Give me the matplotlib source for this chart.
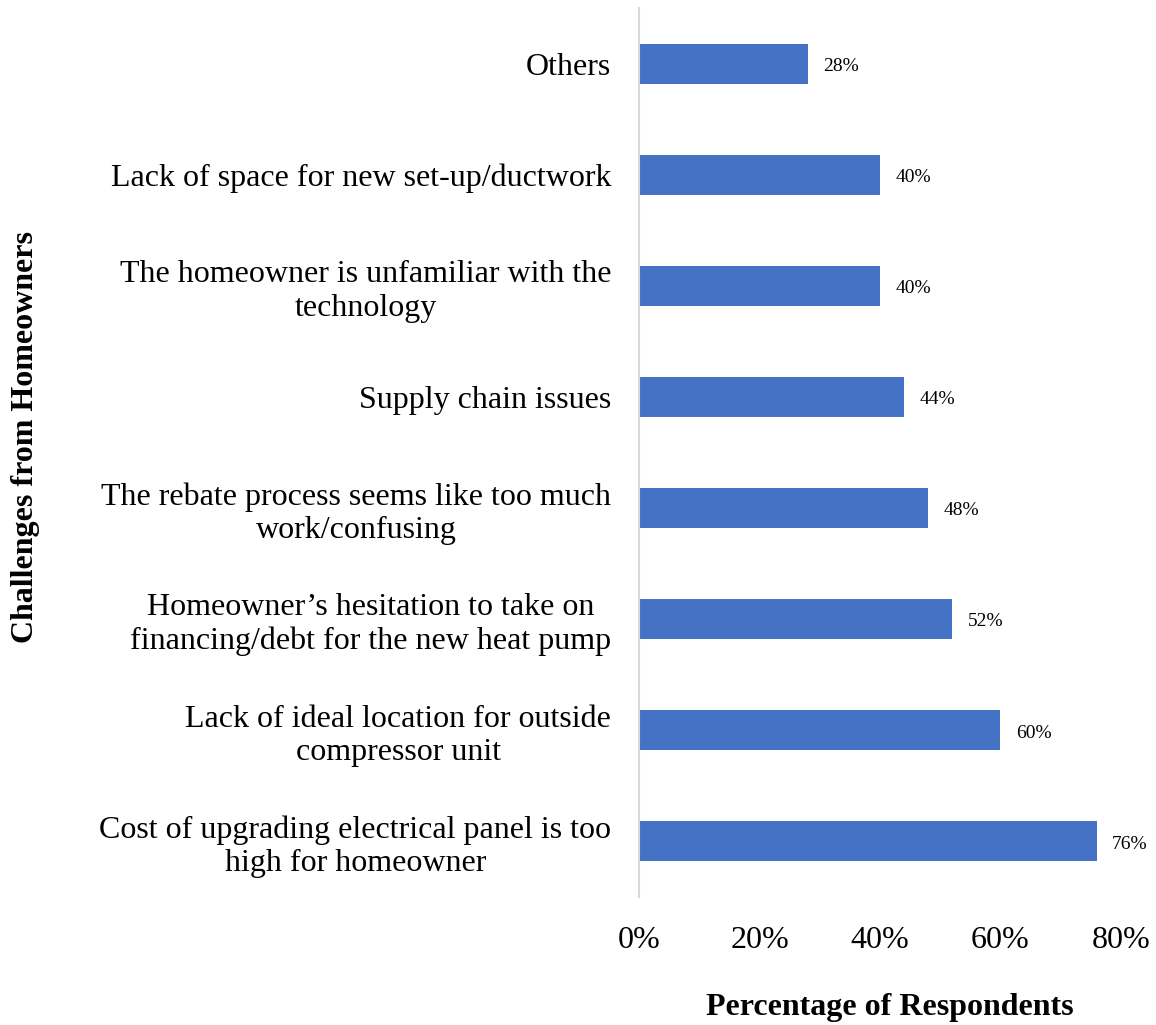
import matplotlib
matplotlib.use("Agg")
import matplotlib.pyplot as plt
from matplotlib.ticker import PercentFormatter

# categories listed bottom to top
categories = [
    "Cost of upgrading electrical panel is too\nhigh for homeowner",
    "Lack of ideal location for outside\ncompressor unit",
    "Homeowner\u2019s hesitation to take on\nfinancing/debt for the new heat pump",
    "The rebate process seems like too much\nwork/confusing",
    "Supply chain issues",
    "The homeowner is unfamiliar with the\ntechnology",
    "Lack of space for new set-up/ductwork",
    "Others",
]
values = [0.76, 0.60, 0.52, 0.48, 0.44, 0.40, 0.40, 0.28]
x_ticks = [0, 0.2, 0.4, 0.6, 0.8]

plt.rcParams["font.family"] = ["Liberation Serif", "DejaVu Serif"]

fig = plt.figure(figsize=(11.56, 10.25), dpi=100)
ax = fig.add_axes([0.5528, 0.125, 0.4169, 0.867])

y = range(len(categories))
bars = ax.barh(y, values, height=0.36, color="#4472C4")

for bar, v in zip(bars, values):
    ax.annotate(f"{v:.0%}", (bar.get_width(), bar.get_y() + bar.get_height() / 2),
                xytext=(11, -2), textcoords="offset points",
                ha="left", va="center", fontsize=14)

ax.set_xlim(0, 0.8)
ax.set_ylim(-0.5, len(categories) - 0.5)
ax.set_xticks(x_ticks)
ax.xaxis.set_major_formatter(PercentFormatter(1.0, decimals=0))
ax.set_yticks(list(y))
ax.set_yticklabels(categories, multialignment="center")
ax.tick_params(axis="y", length=0, pad=20, labelsize=23)
ax.tick_params(axis="x", length=0, pad=21, labelsize=23)

for side in ["top", "right", "bottom"]:
    ax.spines[side].set_visible(False)
ax.spines["left"].set_color("#D9D9D9")
ax.spines["left"].set_linewidth(1.5)

fig.text(0.77, 0.017, "Percentage of Respondents", ha="center", va="center",
         fontsize=23, fontweight="bold")
fig.text(0.022, 0.574, "Challenges from Homeowners", ha="center", va="center",
         rotation=90, fontsize=23, fontweight="bold")

fig.savefig("out.png", dpi=100)
